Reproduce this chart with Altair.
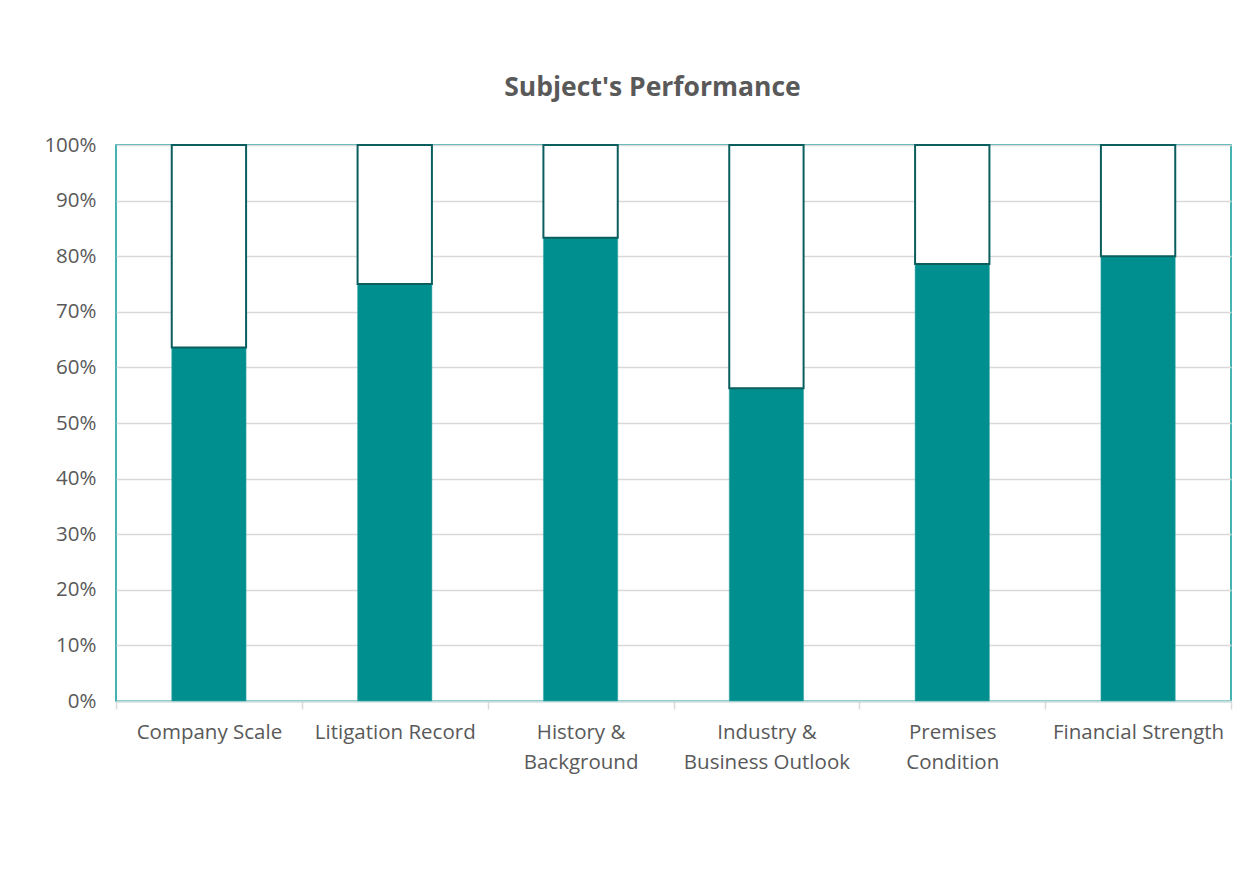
import altair as alt
import pandas as pd

categories = ["Company Scale", "Litigation Record", "History & Background",
              "Industry & Business Outlook", "Premises Condition", "Financial Strength"]
scores = [0.636, 0.75, 0.833, 0.5625, 0.786, 0.80]
label_lines = {
    "History & Background": ["History &", "Background"],
    "Industry & Business Outlook": ["Industry &", "Business Outlook"],
    "Premises Condition": ["Premises", "Condition"],
}
y_ticks = [0, 0.1, 0.2, 0.3, 0.4, 0.5, 0.6, 0.7, 0.8, 0.9, 1.0]

df = pd.DataFrame({"category": categories, "score": scores})

expr_parts = []
for k, v in label_lines.items():
    arr = "[" + ", ".join("'" + s + "'" for s in v) + "]"
    expr_parts.append(f"datum.label == '{k}' ? {arr} : ")
label_expr = "".join(expr_parts) + "datum.label"

FONT = "Open Sans"
TEXT = "#595959"

x_enc = alt.X("category:N", sort=categories, title=None,
              scale=alt.Scale(paddingInner=0, paddingOuter=0),
              axis=alt.Axis(labelAngle=0, labelExpr=label_expr, labelFont=FONT,
                            labelFontSize=20.5, labelColor=TEXT, labelPadding=13,
                            tickBand="extent", ticks=True, tickSize=8,
                            tickColor="#d9d9d9", tickWidth=1.5,
                            domainColor="#c4dcdc", domainWidth=2,
                            labelLineHeight=30, labelBaseline="top", grid=False))

base = alt.Chart(df)

filled = base.mark_bar(color="#008f8f", stroke="#3aa6a6", strokeWidth=0.5,
                       width=alt.RelativeBandSize(0.4)).encode(
    x=x_enc,
    y=alt.Y("score:Q", scale=alt.Scale(domain=[0, 1]), title=None,
            axis=alt.Axis(values=y_ticks, format=".0%", labelFont=FONT, labelFontSize=20.5,
                          labelColor=TEXT, labelPadding=20, ticks=False, domain=False,
                          gridColor="#d9d9d9", gridWidth=1.5,
                          minExtent=75, maxExtent=75)),
    y2=alt.datum(0),
)

rest = base.mark_bar(color="#ffffff", stroke="#0b5e5e", strokeWidth=2,
                     width=alt.RelativeBandSize(0.4)).encode(
    x=alt.X("category:N", sort=categories),
    y=alt.Y("score:Q"),
    y2=alt.datum(1),
)

chart = alt.layer(filled, rest).properties(
    width=1115, height=556,
    title=alt.TitleParams("Subject's Performance", font=FONT, fontSize=26.5,
                          fontWeight="bold", color=TEXT, offset=34, dx=-21),
    padding={"left": 33, "top": 66, "right": 10, "bottom": 10},
    background="white",
).configure_view(stroke="#0a9a9a", strokeWidth=1.5)

chart.save("out.html", embed_options={"renderer": "svg", "actions": False})
